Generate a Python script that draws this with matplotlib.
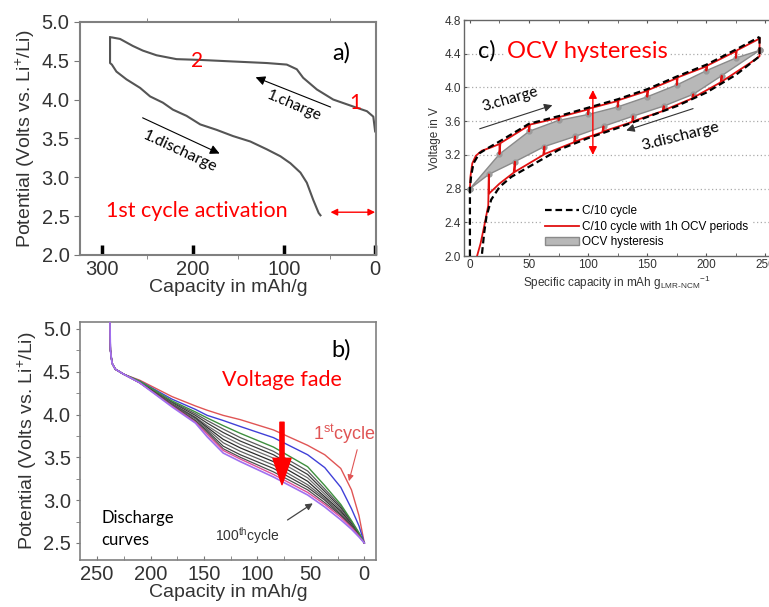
import matplotlib
matplotlib.use('Agg')
import matplotlib.pyplot as plt

plt.rcParams['mathtext.fontset'] = 'custom'
plt.rcParams['mathtext.rm'] = 'Liberation Sans'
plt.rcParams['mathtext.it'] = 'Liberation Sans:italic'

NARROW = ['Liberation Sans Narrow', 'Liberation Sans', 'DejaVu Sans']
ARIAL = ['Liberation Sans', 'DejaVu Sans']
CALIBRI = ['Lato', 'DejaVu Sans']

# ---- panel a: first cycle (capacity in mAh/g, potential in V)
a_chg_cap = [0, 2, 9, 24, 46, 64, 79, 86, 97, 119, 156, 192, 218, 240, 255, 266, 280, 289, 291]
a_chg_v = [3.59, 3.78, 3.85, 3.91, 4.0, 4.13, 4.28, 4.39, 4.45, 4.47, 4.49, 4.51, 4.52, 4.57, 4.63,
           4.69, 4.78, 4.80, 4.80]
a_dis_cap = [291, 291, 289, 284, 273, 258, 247, 233, 222, 207, 192, 174, 156, 137, 119, 104, 93,
             82, 75, 68, 62, 60]
a_dis_v = [4.80, 4.47, 4.45, 4.36, 4.26, 4.15, 4.04, 3.96, 3.87, 3.79, 3.68, 3.61, 3.53, 3.46, 3.36,
           3.27, 3.18, 3.06, 2.93, 2.71, 2.54, 2.51]
a_xticks = [300, 200, 100, 0]
a_yticks = [2.0, 2.5, 3.0, 3.5, 4.0, 4.5, 5.0]

# ---- panel b: discharge curves over 100 cycles
b_cap = [238, 237.5, 236, 233, 225, 210, 180, 158, 147, 132, 116, 85, 53, 37, 22, 12, 5, 0]
b_head = [5.12, 4.75, 4.6, 4.53, 4.47]
b_red = [4.40, 4.21, 4.10, 4.05, 3.99, 3.94, 3.82, 3.64, 3.53, 3.37, 3.12, 2.82, 2.5]
b_blue = [4.39, 4.18, 4.06, 3.99, 3.93, 3.86, 3.73, 3.53, 3.38, 3.15, 2.90, 2.70, 2.5]
b_green = [4.39, 4.16, 4.03, 3.96, 3.87, 3.78, 3.62, 3.39, 3.17, 2.95, 2.76, 2.62, 2.5]
b_grays = [
    [4.38, 4.15, 4.01, 3.93, 3.83, 3.73, 3.57, 3.34, 3.13, 2.93, 2.75, 2.61, 2.5],
    [4.38, 4.14, 3.99, 3.90, 3.79, 3.69, 3.53, 3.30, 3.10, 2.91, 2.74, 2.61, 2.5],
    [4.38, 4.13, 3.97, 3.87, 3.75, 3.65, 3.49, 3.26, 3.07, 2.89, 2.73, 2.60, 2.5],
    [4.38, 4.12, 3.96, 3.85, 3.71, 3.61, 3.45, 3.22, 3.04, 2.87, 2.72, 2.60, 2.5],
    [4.37, 4.12, 3.95, 3.83, 3.67, 3.57, 3.41, 3.18, 3.02, 2.85, 2.71, 2.59, 2.5],
    [4.37, 4.11, 3.93, 3.81, 3.63, 3.53, 3.37, 3.15, 3.00, 2.83, 2.70, 2.59, 2.5],
    [4.37, 4.11, 3.92, 3.79, 3.60, 3.50, 3.33, 3.12, 2.97, 2.82, 2.69, 2.58, 2.5],
]
b_pink = [4.37, 4.10, 3.91, 3.77, 3.58, 3.48, 3.30, 3.09, 2.95, 2.80, 2.68, 2.58, 2.5]
b_purple = [4.37, 4.09, 3.90, 3.74, 3.55, 3.45, 3.27, 3.06, 2.92, 2.77, 2.66, 2.57, 2.5]
b_gray_colors = ['#5a5a5a', '#3a3a3a', '#707070', '#2a2a2a', '#606060', '#404040', '#505050']
b_xticks = [250, 200, 150, 100, 50, 0]
b_yticks = [2.5, 3.0, 3.5, 4.0, 4.5, 5.0]

# ---- panel c: OCV hysteresis
c_dash_chg_cap = [0, 0, 1, 3, 8, 15, 25, 50, 75, 100, 125, 150, 175, 200, 225, 245]
c_dash_chg_v = [2.0, 2.8, 2.95, 3.1, 3.22, 3.28, 3.36, 3.57, 3.66, 3.76, 3.86, 3.98, 4.13, 4.27, 4.45, 4.6]
c_dash_dis_cap = [245, 245, 225, 200, 175, 150, 125, 100, 75, 50, 35, 25, 18, 14, 12, 10]
c_dash_dis_v = [4.6, 4.37, 4.15, 3.94, 3.78, 3.65, 3.52, 3.4, 3.26, 3.06, 2.94, 2.82, 2.67, 2.47, 2.27, 2.0]
c_red_chg_cap = [0, 0.5, 2, 5, 10, 18, 25, 25, 25.8, 50, 50, 50.8, 75, 75, 75.8, 100, 100, 100.8,
                 125, 125, 125.8, 150, 150, 150.8, 175, 175, 175.8, 200, 200, 200.8, 225, 225, 225.8, 245]
c_red_chg_v = [2.8, 2.95, 3.1, 3.19, 3.25, 3.29, 3.33, 3.21, 3.34, 3.55, 3.48, 3.56, 3.64, 3.61, 3.65,
               3.74, 3.68, 3.75, 3.84, 3.77, 3.85, 3.96, 3.89, 3.97, 4.11, 4.03, 4.12, 4.25, 4.2, 4.26,
               4.43, 4.35, 4.44, 4.58]
c_red_dis_cap = [245, 245, 238, 213, 213, 212, 189, 189, 188, 164, 164, 163, 138, 138, 137, 113, 113, 112,
                 89, 89, 88, 63, 63, 62, 38, 38, 37, 25, 16, 16, 15.5, 12, 9, 6]
c_red_dis_v = [4.58, 4.37, 4.3, 4.07, 4.14, 4.06, 3.88, 3.92, 3.87, 3.73, 3.78, 3.72, 3.6, 3.66, 3.59,
               3.48, 3.54, 3.47, 3.36, 3.42, 3.35, 3.21, 3.3, 3.2, 3.0, 3.12, 2.99, 2.86, 2.74, 2.97,
               2.6, 2.35, 2.15, 2.0]
c_ocv_chg_cap = [0, 25, 50, 75, 100, 125, 150, 175, 200, 225, 245]
c_ocv_chg_v = [2.8, 3.21, 3.48, 3.61, 3.68, 3.77, 3.89, 4.03, 4.2, 4.35, 4.44]
c_ocv_dis_cap = [245, 213, 189, 164, 138, 113, 89, 63, 38, 16, 0]
c_ocv_dis_v = [4.44, 4.14, 3.92, 3.78, 3.66, 3.54, 3.42, 3.3, 3.12, 2.97, 2.8]
c_xticks = [0, 50, 100, 150, 200, 250]
c_yticks = [2.0, 2.4, 2.8, 3.2, 3.6, 4.0, 4.4, 4.8]

fig = plt.figure(figsize=(7.69, 6.07), dpi=100)

# ================= panel a
ax = fig.add_axes([0.104, 0.580, 0.385, 0.384])
ax.plot(a_chg_cap, a_chg_v, color='#555555', lw=1.5)
ax.plot(a_dis_cap, a_dis_v, color='#555555', lw=1.5)
ax.set_xlim(324, -1)
ax.set_ylim(2.0, 5.0)
ax.set_xticks(a_xticks)
ax.set_xticks([250, 150, 50], minor=True)
ax.set_yticks(a_yticks)
ax.tick_params(axis='x', which='major', direction='in', length=7, width=2.5, color='black',
               labelsize=14.5, labelcolor='#333333', pad=4)
ax.tick_params(axis='x', which='minor', direction='out', length=3, color='#777777', top=True)
ax.tick_params(axis='y', direction='out', length=4, color='#777777', labelsize=14.5, labelcolor='#333333')
for lab in ax.get_xticklabels() + ax.get_yticklabels():
    lab.set_family(NARROW)
for s in ax.spines.values():
    s.set_color('#808080')
    s.set_linewidth(1.5)
ax.set_ylabel('Potential (Volts vs. Li$^{+}$/Li)', family=ARIAL, fontsize=14, color='#333333', labelpad=3)
ax.set_xlabel('Capacity in mAh/g', family=ARIAL, fontsize=14, color='#333333', labelpad=0)
ax.text(37, 4.6, 'a)', family=CALIBRI, fontsize=17, ha='center', va='center')
ax.text(196, 4.49, '2', family=CALIBRI, fontsize=15, color='red', ha='center', va='center')
ax.text(22, 3.96, '1', family=CALIBRI, fontsize=15, color='red', ha='center', va='center')
ax.text(89, 3.92, '1.charge', family=CALIBRI, fontsize=11, rotation=-23, ha='center', va='center')
ax.text(214, 3.33, '1.discharge', family=CALIBRI, fontsize=11.5, rotation=-25, ha='center', va='center')
ax.annotate('', xy=(134, 4.30), xytext=(46, 3.89),
            arrowprops=dict(arrowstyle='-|>', lw=0.8, color='black', mutation_scale=14))
ax.annotate('', xy=(168, 3.29), xytext=(258, 3.78),
            arrowprops=dict(arrowstyle='-|>', lw=0.8, color='black', mutation_scale=14))
ax.text(196, 2.57, '1st cycle activation', family=CALIBRI, fontsize=15.5, color='red',
        ha='center', va='center')
ax.annotate('', xy=(0, 2.55), xytext=(49, 2.55),
            arrowprops=dict(arrowstyle='<|-|>', lw=1.0, color='red', mutation_scale=10,
                            shrinkA=0, shrinkB=0))

# ================= panel b
ax = fig.add_axes([0.104, 0.0774, 0.385, 0.392])
ax.plot(b_cap, b_head + b_red, color='#e05555', lw=1.0, zorder=3)
ax.plot(b_cap, b_head + b_blue, color='#4040d8', lw=1.0, zorder=3)
ax.plot(b_cap, b_head + b_green, color='#3f8f3f', lw=1.0, zorder=3)
for vals, col in zip(b_grays, b_gray_colors):
    ax.plot(b_cap, b_head + vals, color=col, lw=0.9, zorder=2)
ax.plot(b_cap, b_head + b_pink, color='#e0509a', lw=1.0, zorder=3)
ax.plot(b_cap, b_head + b_purple, color='#a070f0', lw=1.2, zorder=3)
ax.set_xlim(266, -11)
ax.set_ylim(2.30, 5.08)
ax.set_xticks(b_xticks)
ax.set_xticks([225, 175, 125, 75, 25], minor=True)
ax.set_yticks(b_yticks)
ax.set_yticks([2.75, 3.25, 3.75, 4.25, 4.75], minor=True)
ax.tick_params(axis='x', which='both', direction='in', length=3, color='#777777',
               labelsize=14.5, labelcolor='#333333')
ax.tick_params(axis='y', which='both', direction='out', length=3, color='#777777',
               labelsize=14.5, labelcolor='#333333')
for lab in ax.get_xticklabels() + ax.get_yticklabels():
    lab.set_family(NARROW)
for s in ax.spines.values():
    s.set_color('#808080')
    s.set_linewidth(1.2)
ax.set_ylabel('Potential (Volts vs. Li$^{+}$/Li)', family=ARIAL, fontsize=14, color='#333333', labelpad=3)
ax.set_xlabel('Capacity in mAh/g', family=ARIAL, fontsize=14, color='#333333', labelpad=0)
ax.text(21.5, 4.75, 'b)', family=CALIBRI, fontsize=17, ha='center', va='center')
ax.text(77, 4.40, 'Voltage fade', family=CALIBRI, fontsize=15.5, color='red', ha='center', va='center')
ax.annotate('', xy=(77, 3.18), xytext=(77, 3.91),
            arrowprops=dict(width=3, headwidth=13, headlength=19, color='red', shrink=0))
ax.text(18.7, 3.77, '1$^{\\mathrm{st}}$cycle', family=NARROW, fontsize=13, color='#e05555',
        ha='center', va='center')
ax.annotate('', xy=(15, 3.19), xytext=(6, 3.62),
            arrowprops=dict(arrowstyle='-|>', lw=0.8, color='#e05555', mutation_scale=9))
ax.text(109, 2.59, '100$^{\\mathrm{th}}$cycle', family=NARROW, fontsize=10, color='#333333',
        ha='center', va='center')
ax.annotate('', xy=(46, 2.98), xytext=(74, 2.75),
            arrowprops=dict(arrowstyle='-|>', lw=0.9, color='#444444', mutation_scale=10))
ax.text(246, 2.66, 'Discharge\ncurves', family=CALIBRI, fontsize=12, ha='left', va='center',
        linespacing=1.5)

# ================= panel c
ax = fig.add_axes([0.6034, 0.578, 0.3966, 0.389])
for yv in [2.4, 2.8, 3.2, 3.6, 4.0, 4.4]:
    ax.axhline(yv, color='#aaaaaa', lw=0.9, ls=(0, (1, 2)), zorder=0)
ax.fill(c_ocv_chg_cap + c_ocv_dis_cap, c_ocv_chg_v + c_ocv_dis_v, facecolor='#b8b8b8',
        edgecolor='#8a8a8a', lw=1.0, zorder=1, label='OCV hysteresis')
ax.plot(c_ocv_chg_cap, c_ocv_chg_v, 'o', color='#9a9a9a', ms=3.5, zorder=2)
ax.plot(c_ocv_dis_cap, c_ocv_dis_v, 'o', color='#9a9a9a', ms=3.5, zorder=2)
ax.plot(c_red_chg_cap, c_red_chg_v, color='#e01010', lw=1.3, zorder=3)
ax.plot(c_red_dis_cap, c_red_dis_v, color='#e01010', lw=1.3, zorder=3,
        label='C/10 cycle with 1h OCV periods')
ax.plot(c_dash_chg_cap, c_dash_chg_v, color='black', lw=1.6, ls=(0, (3, 1.7)), zorder=4,
        label='C/10 cycle')
ax.plot(c_dash_dis_cap, c_dash_dis_v, color='black', lw=1.6, ls=(0, (3, 1.7)), zorder=4)
ax.set_xlim(-5, 253)
ax.set_ylim(2.0, 4.8)
ax.set_xticks(c_xticks)
ax.set_xticks([25, 75, 125, 175, 225], minor=True)
ax.set_yticks(c_yticks)
ax.set_yticklabels([f'{v:.1f}' for v in c_yticks])
ax.tick_params(which='both', direction='in', length=2.5, color='#555555', top=True,
               labelsize=8.5, labelcolor='#333333', pad=2)
for lab in ax.get_xticklabels() + ax.get_yticklabels():
    lab.set_family(ARIAL)
for s in ax.spines.values():
    s.set_color('#666666')
    s.set_linewidth(1.0)
ax.spines['right'].set_visible(False)
ax.set_ylabel('Voltage in V', family=ARIAL, fontsize=8.5, color='#333333', labelpad=3)
ax.set_xlabel('Specific capacity in mAh g$_{\\mathrm{LMR}\\text{-}\\mathrm{NCM}}$$^{\\mathrm{-1}}$',
              family=ARIAL, fontsize=8.5, color='#333333', labelpad=2)
handles, labels = ax.get_legend_handles_labels()
order = [labels.index('C/10 cycle'), labels.index('C/10 cycle with 1h OCV periods'),
         labels.index('OCV hysteresis')]
leg = ax.legend([handles[i] for i in order], [labels[i] for i in order], loc='upper left',
                bbox_to_anchor=(0.24, 0.25), frameon=True, prop={'family': ARIAL, 'size': 8.5},
                handlelength=2.8, handletextpad=0.3, borderpad=0.2, labelspacing=0.3)
leg.get_frame().set_edgecolor('none')
leg.get_frame().set_facecolor('white')
leg.get_frame().set_alpha(1.0)
ax.text(14, 4.43, 'c)', family=CALIBRI, fontsize=17, ha='center', va='center', zorder=6)
ax.text(31, 4.43, 'OCV hysteresis', family=CALIBRI, fontsize=17, color='red', ha='left',
        va='center', zorder=6, bbox=dict(facecolor='white', edgecolor='none', pad=1))
ax.text(34, 3.86, '3.charge', family=CALIBRI, fontsize=11, rotation=16, ha='center', va='center',
        zorder=6)
ax.annotate('', xy=(72, 3.80), xytext=(6, 3.50),
            arrowprops=dict(arrowstyle='-|>', lw=0.8, color='#333333', mutation_scale=12))
ax.text(178, 3.42, '3.discharge', family=CALIBRI, fontsize=11.5, rotation=14, ha='center',
        va='center', zorder=6)
ax.annotate('', xy=(130, 3.48), xytext=(191, 3.76),
            arrowprops=dict(arrowstyle='-|>', lw=0.8, color='#333333', mutation_scale=12))
ax.annotate('', xy=(104, 3.97), xytext=(104, 3.20),
            arrowprops=dict(arrowstyle='<|-|>', lw=1.0, color='red', mutation_scale=12,
                            shrinkA=0, shrinkB=0), zorder=6)

fig.savefig('out.png', dpi=100)
